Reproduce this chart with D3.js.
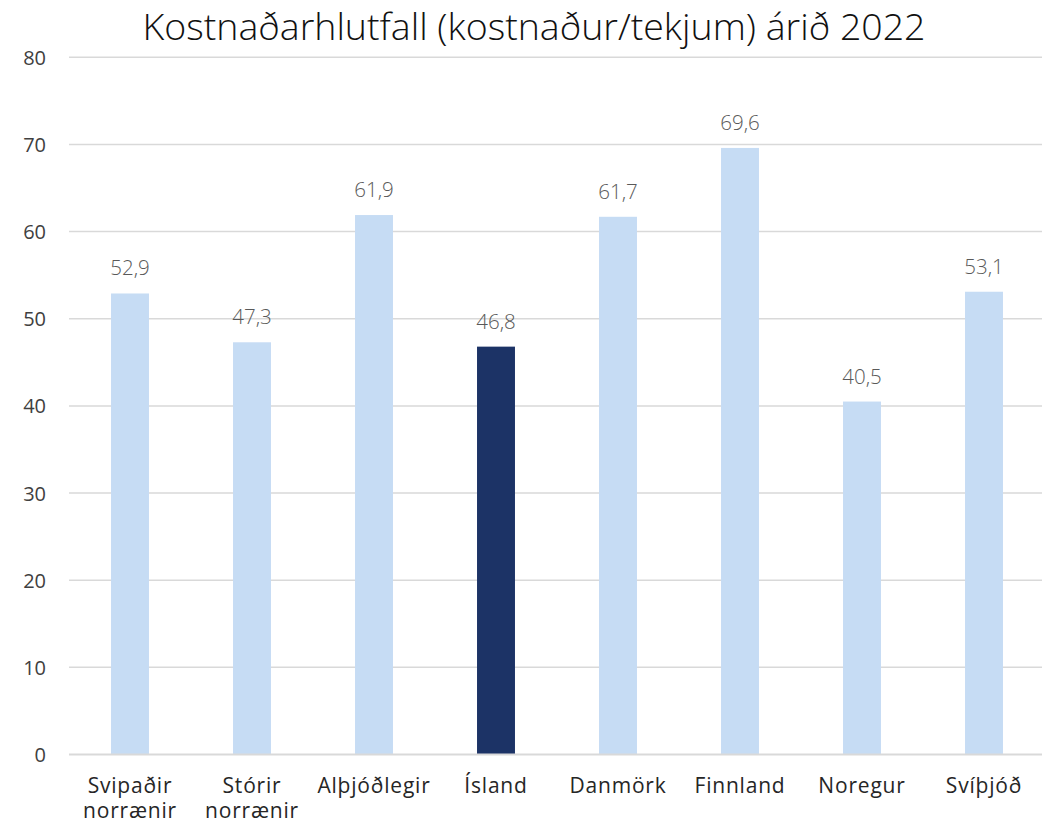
<!DOCTYPE html>
<html>
<head>
<meta charset="utf-8">
<script src="https://cdn.jsdelivr.net/npm/d3@7"></script>
<style>
  html, body { margin: 0; padding: 0; background: #fff; }
  svg { display: block; }
  text { font-family: "Open Sans", "Noto Sans", sans-serif; }
</style>
</head>
<body>
<svg id="chart" width="1042" height="826"></svg>
<script>
const categories = [["Svipaðir", "norrænir"], ["Stórir", "norrænir"], ["Alþjóðlegir"], ["Ísland"], ["Danmörk"], ["Finnland"], ["Noregur"], ["Svíþjóð"]];
const values = [52.9, 47.3, 61.9, 46.8, 61.7, 69.6, 40.5, 53.1];
const highlight = [false, false, false, true, false, false, false, false];
const yTicks = [0, 10, 20, 30, 40, 50, 60, 70, 80];
const title = "Kostnaðarhlutfall (kostnaður/tekjum) árið 2022";

(function () {
const svg = d3.select("#chart");
const W = 1042;
const mLeft = 69, mRight = 1045, mTop = 57.3, mBottom = 754.5;

const keys = categories.map((c, i) => i);
const x = d3.scaleBand().domain(keys).range([mLeft, mRight]).paddingInner(0.689).paddingOuter(0.3445);
const y = d3.scaleLinear().domain([0, 80]).range([mBottom, mTop]);

// title
svg.append("text")
  .attr("x", 534).attr("y", 40)
  .attr("text-anchor", "middle")
  .attr("font-size", 37.5)
  .attr("font-weight", 300)
  .attr("fill", "#111")
  .text(title);

// gridlines
svg.append("g").selectAll("line").data(yTicks.filter(d => d > 0)).join("line")
  .attr("x1", mLeft).attr("x2", W)
  .attr("y1", d => y(d)).attr("y2", d => y(d))
  .attr("stroke", "#d9d9d9").attr("stroke-width", 1.5);

// y axis labels
const yAxis = d3.axisLeft(y).tickValues(yTicks).tickSize(0).tickPadding(0);
const gy = svg.append("g").attr("transform", `translate(46,0)`).call(yAxis);
gy.select(".domain").remove();
gy.selectAll("text")
  .attr("font-size", 20).attr("fill", "#404040")
  .style("font-family", '"Open Sans", sans-serif')
  .attr("dy", "0.35em");

// bars
svg.append("g").selectAll("rect").data(values).join("rect")
  .attr("x", (d, i) => x(i))
  .attr("width", x.bandwidth())
  .attr("y", d => y(d))
  .attr("height", d => y(0) - y(d))
  .attr("fill", (d, i) => highlight[i] ? "#1c3366" : "#c6dcf4");

// zero line
svg.append("line")
  .attr("x1", mLeft).attr("x2", W)
  .attr("y1", y(0)).attr("y2", y(0))
  .attr("stroke", "#d9d9d9").attr("stroke-width", 2);

// value labels
svg.append("g").selectAll("text").data(values).join("text")
  .attr("x", (d, i) => x(i) + x.bandwidth() / 2)
  .attr("y", d => y(d) - 18)
  .attr("text-anchor", "middle")
  .attr("font-size", 20.5)
  .attr("font-weight", 300)
  .attr("fill", "#595959")
  .text(d => d3.format(".1f")(d).replace(".", ","));

// x axis labels
const xAxis = d3.axisBottom(x).tickSize(0).tickFormat(() => "");
const gx = svg.append("g").attr("transform", `translate(0,${mBottom})`).call(xAxis);
gx.select(".domain").remove();
gx.selectAll(".tick").each(function (i) {
  const t = d3.select(this).select("text");
  t.attr("y", 0).attr("dy", null)
   .attr("font-size", 21)
   .attr("fill", "#262626")
   .attr("letter-spacing", "0.8px")
   .style("font-family", '"Open Sans", sans-serif');
  categories[i].forEach((line, k) => {
    t.append("tspan").attr("x", 0).attr("y", 38 + k * 25).text(line);
  });
});
})();
</script>
</body>
</html>
